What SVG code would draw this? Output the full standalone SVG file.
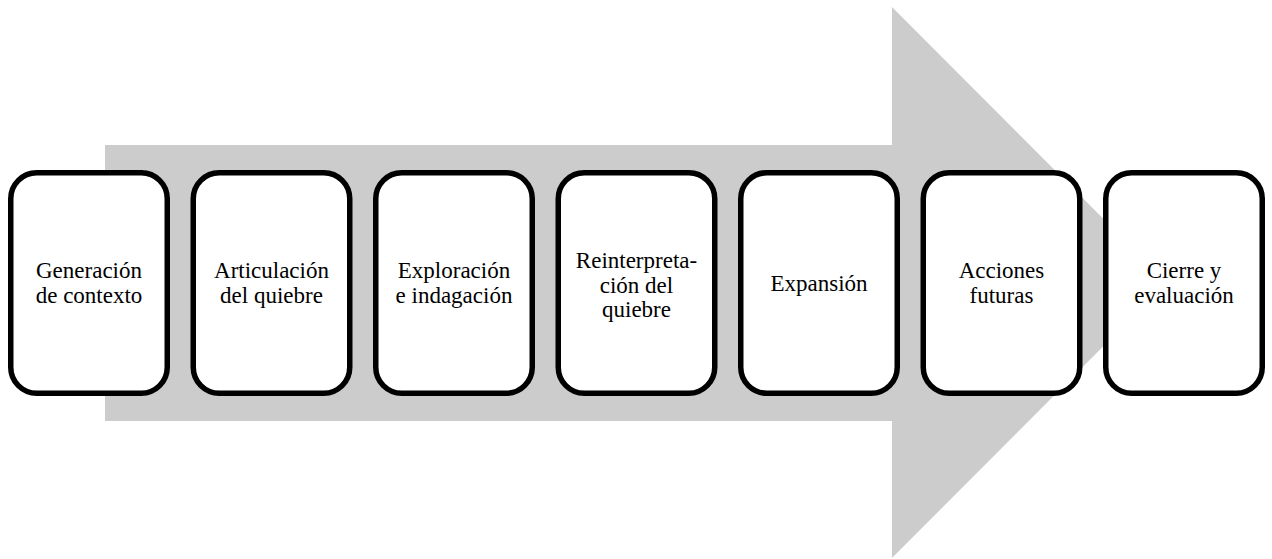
<svg xmlns="http://www.w3.org/2000/svg" width="1272" height="559" viewBox="0 0 1272 559">
<style>
.box{fill:#ffffff;stroke:#000000;stroke-width:5.5}
.t{font-family:"Liberation Serif","Times New Roman",serif;font-size:23px;fill:#000000;text-anchor:middle}
</style>
<rect width="1272" height="559" fill="#ffffff"/>
<g id="connectors">
<polygon points="105,145 892,145 892,7 1167,282.5 892,558 892,421 105,421" fill="#cccccc"/>
</g>
<g id="n1"><rect class="box" x="10.75" y="172.75" width="156.5" height="220.5" rx="26"/>
<text class="t" x="89" y="278">Generación</text><text class="t" x="89" y="303">de contexto</text></g>
<g id="n2"><rect class="box" x="193.25" y="172.75" width="156.5" height="220.5" rx="26"/>
<text class="t" x="271.5" y="278">Articulación</text><text class="t" x="271.5" y="303">del quiebre</text></g>
<g id="n3"><rect class="box" x="375.75" y="172.75" width="156.5" height="220.5" rx="26"/>
<text class="t" x="454" y="278">Exploración</text><text class="t" x="454" y="303">e indagación</text></g>
<g id="n4"><rect class="box" x="558.25" y="172.75" width="156.5" height="220.5" rx="26"/>
<text class="t" x="636.5" y="268">Reinterpreta-</text><text class="t" x="636.5" y="293">ción del</text><text class="t" x="636.5" y="317">quiebre</text></g>
<g id="n5"><rect class="box" x="740.75" y="172.75" width="156.5" height="220.5" rx="26"/>
<text class="t" x="819" y="291">Expansión</text></g>
<g id="n6"><rect class="box" x="923.25" y="172.75" width="156.5" height="220.5" rx="26"/>
<text class="t" x="1001.5" y="278">Acciones</text><text class="t" x="1001.5" y="303">futuras</text></g>
<g id="n7"><rect class="box" x="1105.75" y="172.75" width="156.5" height="220.5" rx="26"/>
<text class="t" x="1184" y="278">Cierre y</text><text class="t" x="1184" y="303">evaluación</text></g>
</svg>
